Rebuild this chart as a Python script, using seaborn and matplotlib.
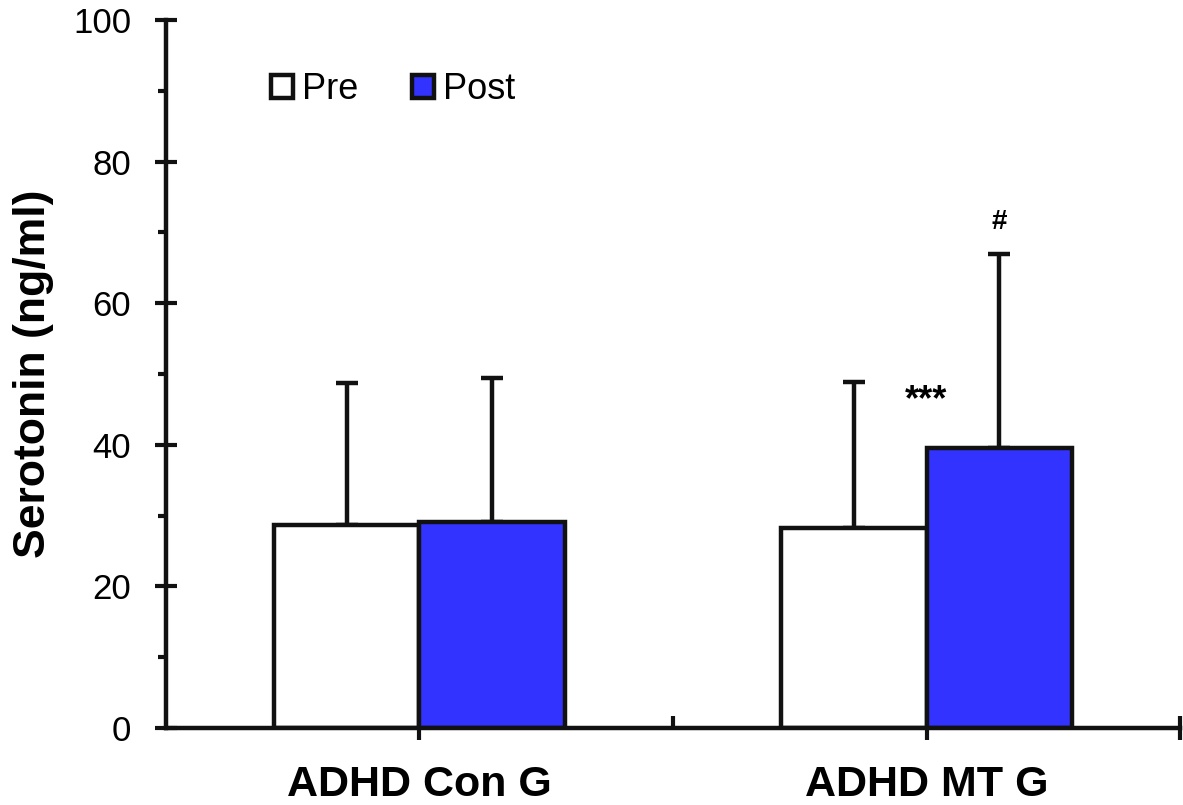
import matplotlib
matplotlib.use("Agg")
import matplotlib.pyplot as plt
import seaborn as sns
import pandas as pd
import numpy as np
from matplotlib.patches import Patch
from matplotlib.ticker import MultipleLocator

groups = ["ADHD Con G", "ADHD MT G"]
phases = ["Pre", "Post"]
pre_means = [28.7, 28.2]
post_means = [29.1, 39.5]
pre_sd = [20.1, 20.7]
post_sd = [20.3, 27.4]
y_ticks = [0, 20, 40, 60, 80, 100]

blue = "#3333FF"
ink = "#111111"
sns.set_style("white")
plt.rcParams["font.family"] = ["Liberation Sans", "DejaVu Sans"]
plt.rcParams["text.color"] = "black"
plt.rcParams["xtick.color"] = ink
plt.rcParams["ytick.color"] = ink
plt.rcParams["xtick.labelcolor"] = "black"
plt.rcParams["ytick.labelcolor"] = "black"
plt.rcParams["axes.labelcolor"] = "black"

df = pd.DataFrame({
    "group": groups * 2,
    "phase": ["Pre"] * 2 + ["Post"] * 2,
    "value": pre_means + post_means,
    "sd": pre_sd + post_sd,
})

fig = plt.figure(figsize=(11.83, 8.05), dpi=100)
ax = fig.add_axes([0.1403, 0.0957, 0.9975 - 0.1403, 0.975 - 0.0957])

sns.barplot(data=df, x="group", y="value", hue="phase", hue_order=phases,
            order=groups, palette={"Pre": "white", "Post": blue},
            width=0.574, gap=0, errorbar=None, edgecolor=ink, saturation=1,
            linewidth=3.2, legend=False, ax=ax, zorder=3)

# error bars (upper only) at bar centres
for i, ph in enumerate(phases):
    sub = df[df.phase == ph].set_index("group").loc[groups]
    bars = ax.containers[i]
    xs = [b.get_x() + b.get_width() / 2 for b in bars]
    ax.errorbar(xs, sub["value"].values,
                yerr=[np.zeros(len(xs)), sub["sd"].values],
                fmt="none", ecolor=ink, elinewidth=3.2,
                capsize=8, capthick=3.2, zorder=2)

ax.set_xlim(-0.5, 1.5)
ax.set_ylim(0, 100)
ax.set_yticks(y_ticks)
ax.yaxis.set_minor_locator(MultipleLocator(10))
ax.set_xticks([0, 1, 1.5])
ax.set_xticklabels(groups + [""], fontsize=31, fontweight="bold")
ax.set_xticks([0.5], minor=True)
ax.tick_params(axis="y", which="major", direction="inout", length=16,
               width=3, labelsize=25, pad=17, left=True)
ax.tick_params(axis="y", which="minor", direction="out", length=6,
               width=3, left=True)
ax.tick_params(axis="x", which="major", direction="inout", length=17,
               width=3, pad=18, bottom=True)
ax.tick_params(axis="x", which="minor", direction="in", length=9,
               width=3, bottom=True)

ax.set_xlabel("")
ax.set_ylabel("Serotonin (ng/ml)", fontsize=32, fontweight="bold", labelpad=14)

for s in ["top", "right"]:
    ax.spines[s].set_visible(False)
for s in ["left", "bottom"]:
    ax.spines[s].set_linewidth(3.2)
    ax.spines[s].set_color(ink)
    ax.spines[s].set_zorder(4)

handles = [Patch(facecolor="white", edgecolor=ink, linewidth=3.2, label="Pre"),
           Patch(facecolor=blue, edgecolor=ink, linewidth=3.2, label="Post")]
ax.legend(handles=handles, loc="center left", bbox_to_anchor=(0.1036, 0.902),
          ncol=2, frameon=False, fontsize=26, handlelength=0.6, handleheight=0.6,
          handletextpad=0.25, columnspacing=1.5, borderpad=0, borderaxespad=0)

ax.text(1.0, 46.3, "***", ha="center", va="center", fontsize=26, fontweight="bold")
ax.text(1.144, 71.5, "#", ha="center", va="center", fontsize=20, fontweight="bold")

fig.savefig("out.png", dpi=100)
